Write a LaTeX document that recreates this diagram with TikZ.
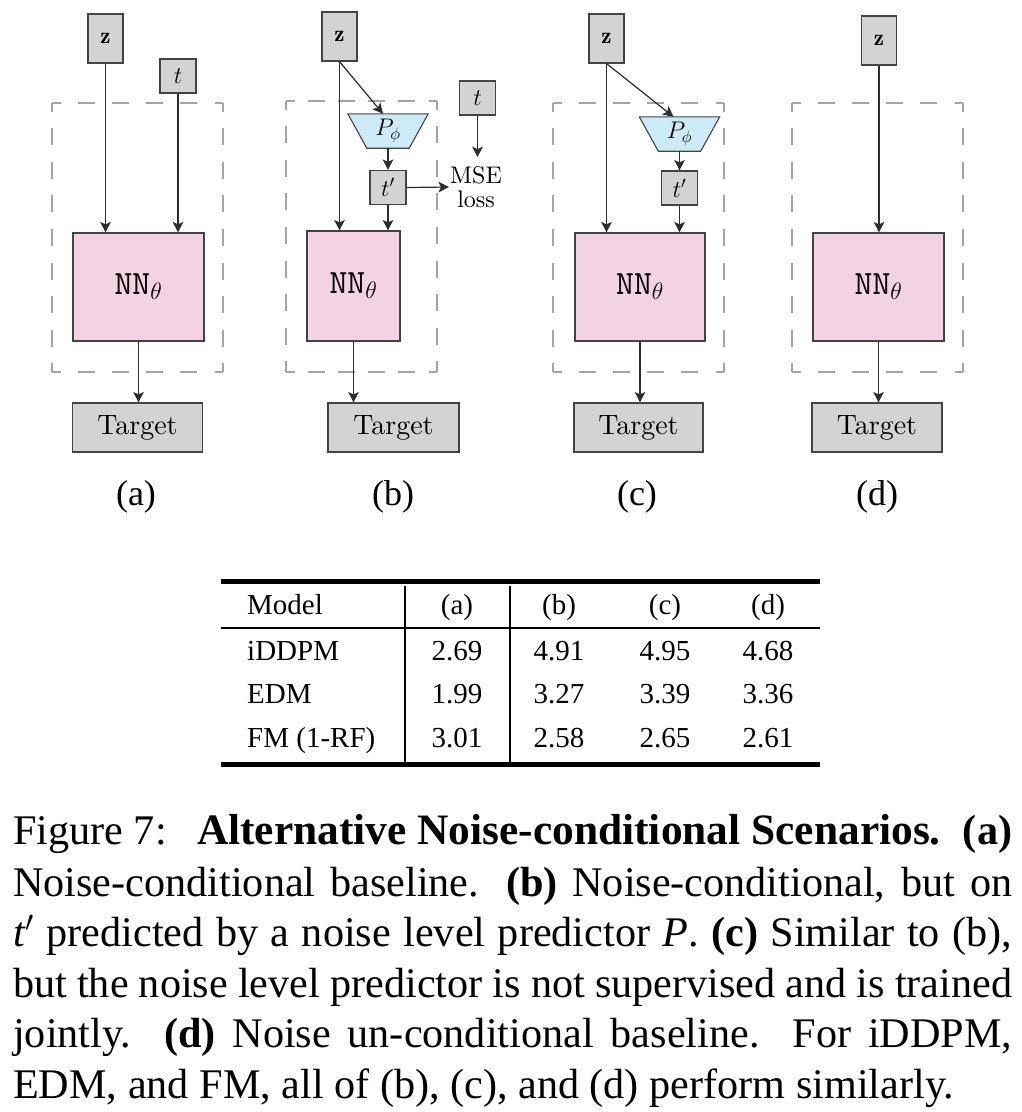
\RequirePackage{fix-cm}
\documentclass[tikz,border=0pt]{standalone}
\usepackage{fontspec}
\newfontfamily\timesfont{Liberation Serif}
\newfontfamily\lmten{lmroman10-regular.otf}
\newfontfamily\lmtt{lmmono10-regular.otf}
\usetikzlibrary{arrows.meta,backgrounds}
\definecolor{boxgray}{RGB}{211,211,211}
\definecolor{nnpink}{RGB}{243,210,228}
\definecolor{pblue}{RGB}{205,234,247}
\definecolor{edgegray}{RGB}{68,68,68}
\definecolor{arrowgray}{RGB}{45,45,45}
\definecolor{dashgray}{RGB}{165,165,165}
\begin{document}
\begin{tikzpicture}[x=1pt,y=-1pt,
  basebox/.style={draw=edgegray, line width=1.1pt, inner sep=0pt},
  zbox/.style={basebox, fill=boxgray, minimum width=35pt, minimum height=49pt, font=\fontsize{23}{27}\selectfont},
  tbox/.style={basebox, fill=boxgray, minimum width=36pt, minimum height=34pt, font=\fontsize{24}{28}\selectfont},
  nnbox/.style={basebox, fill=nnpink, font=\fontsize{34}{38}\selectfont},
  tgbox/.style={basebox, fill=boxgray, minimum width=130pt, minimum height=49pt, font=\lmten\fontsize{28}{33}\selectfont},
  ptext/.style={inner sep=0pt, minimum width=80pt, minimum height=34pt, font=\fontsize{24}{28}\selectfont},
  ptrap/.style={draw=edgegray, fill=pblue, line width=1.1pt, line join=miter},
  dashbase/.style={draw=dashgray, line width=2.8pt},
  dashh/.style={dashbase, dash pattern=on 17pt off 17.2pt, dash phase=8.5pt},
  dashhb/.style={dashbase, dash pattern=on 17pt off 13.2pt, dash phase=8.5pt},
  dashv/.style={dashbase, dash pattern=on 17pt off 16.6pt, dash phase=8.5pt},
  arr/.style={draw=arrowgray, line width=1.2pt, -{Stealth[length=10.5pt,width=10.5pt,inset=2.5pt]}},
  msebox/.style={inner xsep=1pt, inner ysep=9pt, align=center, font=\lmten\fontsize{24}{24}\selectfont},
  sublabel/.style={anchor=base, inner sep=0pt, font=\timesfont\fontsize{36}{40}\selectfont},
  tabtext/.style={anchor=base, inner sep=0pt, font=\timesfont\fontsize{29}{34}\selectfont},
  capline/.style={anchor=base west, inner sep=0pt, text height=29pt, text depth=9pt, font=\timesfont\fontsize{42.2}{50}\selectfont},
  rulethick/.style={line width=4.5pt},
  rulethin/.style={line width=1.2pt}
]
\begin{scope}[on background layer]
\fill[white] (0,0) rectangle (1022,1112);
\end{scope}
\useasboundingbox (0,0) rectangle (1022,1112);

% ---------- panel (a)
\draw[dashh] (52,103) -- (223,103);
\draw[dashh] (52,372) -- (223,372);
\draw[dashv] (52,103) -- (52,372);
\draw[dashv] (223,103) -- (223,372);
\node[zbox] (za) at (105.5,38.5) {\raisebox{-3.5pt}{$\mathbf{z}$}};
\node[tbox] (ta) at (178,76) {$t$};
\node[nnbox, minimum width=131pt, minimum height=108pt] (nna) at (138.5,287) {\raisebox{-7pt}{{\lmtt NN}$_\theta$}};
\node[tgbox] (tga) at (137.5,427.5) {Target};
\draw[arr] (za.south) -- (za.south |- nna.north);
\draw[arr] (ta.south) -- (ta.south |- nna.north);
\draw[arr] (nna.south) -- (nna.south |- tga.north);
\node[sublabel] (la) at (136,505) {(a)};

% ---------- panel (b)
\draw[dashhb] (286,101) -- (437,101);
\draw[dashhb] (286,372) -- (437,372);
\draw[dashv] (286,101) -- (286,372);
\draw[dashv] (437,101) -- (437,372);
\node[zbox] (zb) at (339.5,36.5) {\raisebox{-3.5pt}{$\mathbf{z}$}};
\node[tbox] (tb) at (477.5,98) {$t$};
\node[ptext] (pb) at (388,131) {$P_\phi$};
\begin{scope}[on background layer]
\draw[ptrap] (pb.north west) -- (pb.north east) -- ([xshift=-19pt]pb.south east) -- ([xshift=19pt]pb.south west) -- cycle;
\end{scope}
\node[tbox] (tpb) at (388,187.5) {$t'$};
\node[msebox, anchor=west] (mse) at (449,187) {MSE\\loss};
\node[nnbox, minimum width=93pt, minimum height=110pt] (nnb) at (353.5,286) {\raisebox{-7pt}{{\lmtt NN}$_\theta$}};
\node[tgbox, minimum width=131pt] (tgb) at (393.5,427.5) {Target};
\draw[arr] (zb.south) -- (zb.south |- nnb.north);
\draw[arr] (zb.south) -- ([xshift=-5pt]pb.north);
\draw[arr] (pb.south) -- (tpb.north);
\draw[arr] (tpb.south) -- (tpb.south |- nnb.north);
\draw[arr] (tpb.east) -- (mse.west);
\draw[arr] (tb.south) -- (tb.south |- mse.north);
\draw[arr] (nnb.south) -- (nnb.south |- tgb.north);
\node[sublabel] (lb) at (393,505) {(b)};

% ---------- panel (c)
\draw[dashh] (553,103) -- (724,103);
\draw[dashh] (553,372) -- (724,372);
\draw[dashv] (553,103) -- (553,372);
\draw[dashv] (724,103) -- (724,372);
\node[zbox] (zc) at (606.5,38.5) {\raisebox{-3.5pt}{$\mathbf{z}$}};
\node[ptext] (pc) at (679.5,134) {$P_\phi$};
\begin{scope}[on background layer]
\draw[ptrap] (pc.north west) -- (pc.north east) -- ([xshift=-19pt]pc.south east) -- ([xshift=19pt]pc.south west) -- cycle;
\end{scope}
\node[tbox] (tpc) at (679.5,188) {$t'$};
\node[nnbox, minimum width=130pt, minimum height=108pt] (nnc) at (640,287) {\raisebox{-7pt}{{\lmtt NN}$_\theta$}};
\node[tgbox, minimum width=129pt] (tgc) at (638.5,427.5) {Target};
\draw[arr] (zc.south) -- (zc.south |- nnc.north);
\draw[arr] (zc.south) -- ([xshift=-6pt]pc.north);
\draw[arr] (pc.south) -- (tpc.north);
\draw[arr] (tpc.south) -- (tpc.south |- nnc.north);
\draw[arr] (nnc.south) -- (nnc.south |- tgc.north);
\node[sublabel] (lc) at (637,505) {(c)};

% ---------- panel (d)
\draw[dashh] (792,103) -- (963,103);
\draw[dashh] (792,372) -- (963,372);
\draw[dashv] (792,103) -- (792,372);
\draw[dashv] (963,103) -- (963,372);
\node[zbox] (zd) at (879,40.5) {\raisebox{-3.5pt}{$\mathbf{z}$}};
\node[nnbox, minimum width=131pt, minimum height=108pt] (nnd) at (878.5,287) {\raisebox{-7pt}{{\lmtt NN}$_\theta$}};
\node[tgbox] (tgd) at (877,427.5) {Target};
\draw[arr] (zd.south) -- (zd.south |- nnd.north);
\draw[arr] (nnd.south) -- (nnd.south |- tgd.north);
\node[sublabel] (ld) at (877,505) {(d)};

% ---------- table
\draw[rulethick] (221,581.5) -- (820,581.5);
\draw[rulethin] (221,628) -- (820,628);
\draw[rulethick] (221,764.5) -- (820,764.5);
\draw[rulethin] (405,586) -- (405,762.5);
\draw[rulethin] (510,586) -- (510,762.5);

\node[tabtext, anchor=base west] (h0) at (247,614) {Model};
\node[tabtext] (h1) at (457,614) {(a)};
\node[tabtext] (h2) at (559,614) {(b)};
\node[tabtext] (h3) at (665,614) {(c)};
\node[tabtext] (h4) at (768,614) {(d)};

\node[tabtext, anchor=base west] (r10) at (247,660) {iDDPM};
\node[tabtext] (r11) at (457,660) {2.69};
\node[tabtext] (r12) at (559,660) {4.91};
\node[tabtext] (r13) at (665,660) {4.95};
\node[tabtext] (r14) at (768,660) {4.68};

\node[tabtext, anchor=base west] (r20) at (247,703) {EDM};
\node[tabtext] (r21) at (457,703) {1.99};
\node[tabtext] (r22) at (559,703) {3.27};
\node[tabtext] (r23) at (665,703) {3.39};
\node[tabtext] (r24) at (768,703) {3.36};

\node[tabtext, anchor=base west] (r30) at (247,747) {FM (1-RF)};
\node[tabtext] (r31) at (457,747) {3.01};
\node[tabtext] (r32) at (559,747) {2.58};
\node[tabtext] (r33) at (665,747) {2.65};
\node[tabtext] (r34) at (768,747) {2.61};

% ---------- caption
\node[capline] (cap1) at (13,844.5) {\hbox to 999pt{Figure 7:\hskip 30pt plus 1fil{\bfseries\fontsize{43.4}{50}\selectfont Alternative Noise-conditional Scenarios.}\hskip 22pt plus 0.75fil\textbf{(a)}}};
\node[capline] (cap2) at (13,896) {\hbox to 999pt{Noise-conditional baseline. \textbf{(b)} Noise-conditional, but on}};
\node[capline] (cap3) at (13,946.5) {\hbox to 999pt{\textit{t}$'$ predicted by a noise level predictor \textit{P}. \textbf{(c)} Similar to (b),}};
\node[capline] (cap4) at (13,997) {\hbox to 999pt{but the noise level predictor is not supervised and is trained}};
\node[capline] (cap5) at (13,1047) {\hbox to 999pt{jointly. \textbf{(d)} Noise un-conditional baseline. For iDDPM,}};
\node[capline] (cap6) at (13,1098) {EDM, and FM, all of (b), (c), and (d) perform similarly.};
\end{tikzpicture}
\end{document}
